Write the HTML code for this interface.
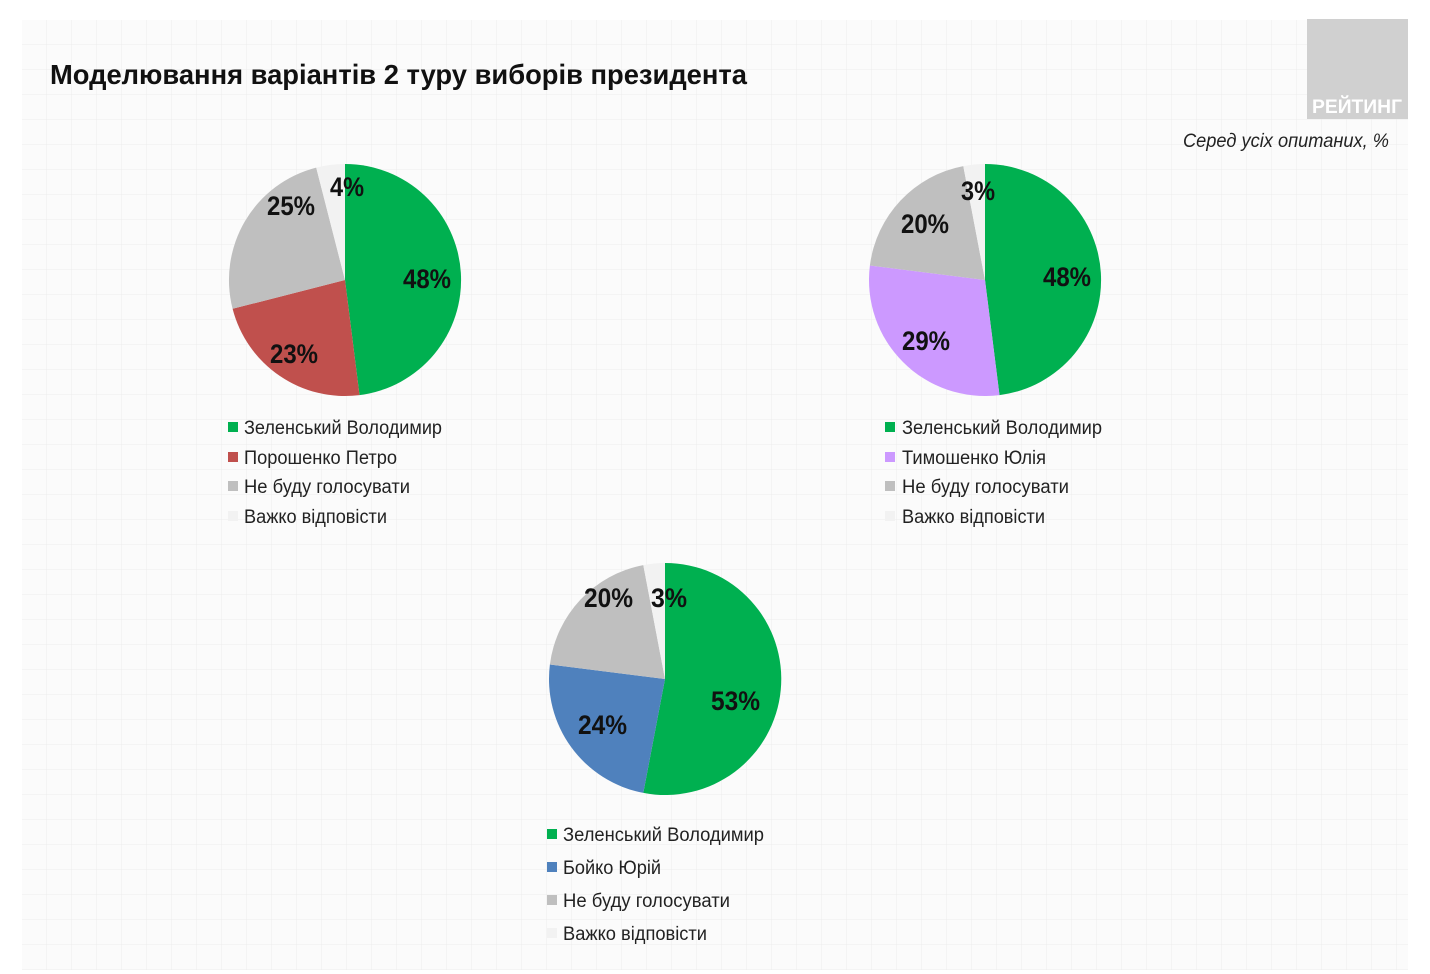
<!DOCTYPE html>
<html><head><meta charset="utf-8"><style>
html,body{margin:0;padding:0;background:#fff;}
svg{display:block;}
text{font-family:"Liberation Sans Narrow","Liberation Sans","DejaVu Sans",sans-serif;}
.lb{font-weight:bold;font-size:27px;fill:#111;}
.lg{font-size:19px;fill:#222;}
</style></head><body>
<svg width="1430" height="974" viewBox="0 0 1430 974" xmlns="http://www.w3.org/2000/svg">
<defs>
<pattern id="g" width="25" height="25" patternUnits="userSpaceOnUse" x="22" y="20">
<path d="M25 0V25M0 25H25" stroke="#ececec" stroke-width="1" fill="none"/>
</pattern>
</defs>
<rect x="0" y="0" width="1430" height="974" fill="#fff"/>
<rect x="22" y="20" width="1386" height="950" fill="#fbfbfb"/>
<rect x="22" y="20" width="1386" height="950" fill="url(#g)"/>
<rect x="1307" y="19" width="101" height="100" fill="#d0d0d0"/>
<text x="1357" y="113" text-anchor="middle" font-weight="bold" font-size="19" fill="#fff" textLength="90" lengthAdjust="spacingAndGlyphs">РЕЙТИНГ</text>
<text x="50" y="84" font-weight="bold" font-size="28" fill="#111" textLength="697" lengthAdjust="spacingAndGlyphs">Моделювання варіантів 2 туру виборів президента</text>
<text x="1183" y="147" font-style="italic" font-size="19" fill="#222" textLength="206" lengthAdjust="spacingAndGlyphs">Серед усіх опитаних, %</text>

<!-- Pie 1 -->
<g>
<path d="M345 280L345 164A116 116 0 0 1 359.5 395.1Z" fill="#00b050"/>
<path d="M345 280L359.5 395.1A116 116 0 0 1 232.6 308.8Z" fill="#c0504d"/>
<path d="M345 280L232.6 308.8A116 116 0 0 1 316.2 167.6Z" fill="#bfbfbf"/>
<path d="M345 280L316.2 167.6A116 116 0 0 1 345 164Z" fill="#f2f2f2"/>
<text class="lb" x="403" y="288" textLength="48" lengthAdjust="spacingAndGlyphs">48%</text>
<text class="lb" x="270" y="363" textLength="48" lengthAdjust="spacingAndGlyphs">23%</text>
<text class="lb" x="267" y="215" textLength="48" lengthAdjust="spacingAndGlyphs">25%</text>
<text class="lb" x="330" y="196" textLength="34" lengthAdjust="spacingAndGlyphs">4%</text>
<rect x="228" y="422" width="10" height="10" fill="#00b050"/>
<text class="lg" x="244" y="434" textLength="198" lengthAdjust="spacingAndGlyphs">Зеленський Володимир</text>
<rect x="228" y="452" width="10" height="10" fill="#c0504d"/>
<text class="lg" x="244" y="464" textLength="153" lengthAdjust="spacingAndGlyphs">Порошенко Петро</text>
<rect x="228" y="481" width="10" height="10" fill="#bfbfbf"/>
<text class="lg" x="244" y="493" textLength="166" lengthAdjust="spacingAndGlyphs">Не буду голосувати</text>
<rect x="228" y="511" width="10" height="10" fill="#f2f2f2"/>
<text class="lg" x="244" y="523" textLength="143" lengthAdjust="spacingAndGlyphs">Важко відповісти</text>
</g>

<!-- Pie 2 -->
<g>
<path d="M985 280L985 164A116 116 0 0 1 999.5 395.1Z" fill="#00b050"/>
<path d="M985 280L999.5 395.1A116 116 0 0 1 869.9 265.5Z" fill="#cc99ff"/>
<path d="M985 280L869.9 265.5A116 116 0 0 1 963.3 166.1Z" fill="#bfbfbf"/>
<path d="M985 280L963.3 166.1A116 116 0 0 1 985 164Z" fill="#f2f2f2"/>
<text class="lb" x="1043" y="286" textLength="48" lengthAdjust="spacingAndGlyphs">48%</text>
<text class="lb" x="902" y="350" textLength="48" lengthAdjust="spacingAndGlyphs">29%</text>
<text class="lb" x="901" y="233" textLength="48" lengthAdjust="spacingAndGlyphs">20%</text>
<text class="lb" x="961" y="200" textLength="34" lengthAdjust="spacingAndGlyphs">3%</text>
<rect x="885" y="422" width="10" height="10" fill="#00b050"/>
<text class="lg" x="902" y="434" textLength="200" lengthAdjust="spacingAndGlyphs">Зеленський Володимир</text>
<rect x="885" y="452" width="10" height="10" fill="#cc99ff"/>
<text class="lg" x="902" y="464" textLength="144" lengthAdjust="spacingAndGlyphs">Тимошенко Юлія</text>
<rect x="885" y="481" width="10" height="10" fill="#bfbfbf"/>
<text class="lg" x="902" y="493" textLength="167" lengthAdjust="spacingAndGlyphs">Не буду голосувати</text>
<rect x="885" y="511" width="10" height="10" fill="#f2f2f2"/>
<text class="lg" x="902" y="523" textLength="143" lengthAdjust="spacingAndGlyphs">Важко відповісти</text>
</g>

<!-- Pie 3 -->
<g>
<path d="M665 679L665 563A116 116 0 1 1 643.3 792.9Z" fill="#00b050"/>
<path d="M665 679L643.3 792.9A116 116 0 0 1 549.9 664.5Z" fill="#4f81bd"/>
<path d="M665 679L549.9 664.5A116 116 0 0 1 643.3 565.1Z" fill="#bfbfbf"/>
<path d="M665 679L643.3 565.1A116 116 0 0 1 665 563Z" fill="#f2f2f2"/>
<text class="lb" x="711" y="710" textLength="49" lengthAdjust="spacingAndGlyphs">53%</text>
<text class="lb" x="578" y="734" textLength="49" lengthAdjust="spacingAndGlyphs">24%</text>
<text class="lb" x="584" y="607" textLength="49" lengthAdjust="spacingAndGlyphs">20%</text>
<text class="lb" x="651" y="607" textLength="36" lengthAdjust="spacingAndGlyphs">3%</text>
<rect x="547" y="829" width="10" height="10" fill="#00b050"/>
<text class="lg" x="563" y="841" textLength="201" lengthAdjust="spacingAndGlyphs">Зеленський Володимир</text>
<rect x="547" y="862" width="10" height="10" fill="#4f81bd"/>
<text class="lg" x="563" y="874" textLength="98" lengthAdjust="spacingAndGlyphs">Бойко Юрій</text>
<rect x="547" y="895" width="10" height="10" fill="#bfbfbf"/>
<text class="lg" x="563" y="907" textLength="167" lengthAdjust="spacingAndGlyphs">Не буду голосувати</text>
<rect x="547" y="928" width="10" height="10" fill="#f2f2f2"/>
<text class="lg" x="563" y="940" textLength="144" lengthAdjust="spacingAndGlyphs">Важко відповісти</text>
</g>
</svg>
</body></html>
